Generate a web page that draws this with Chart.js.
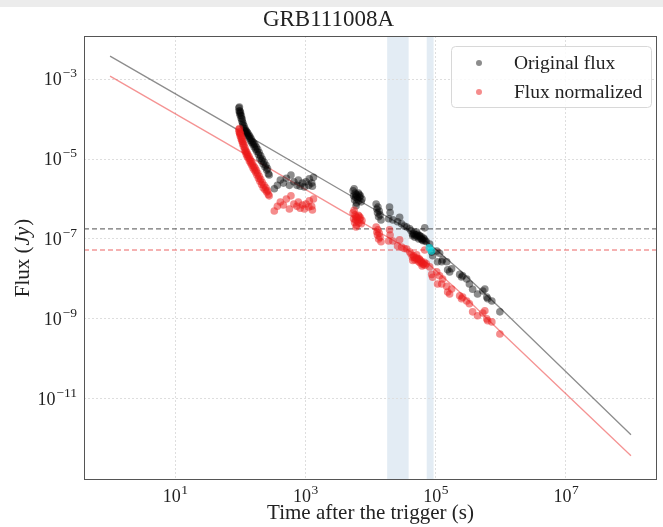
<!DOCTYPE html>
<html>
<head>
<meta charset="utf-8">
<script src="https://cdn.jsdelivr.net/npm/chart.js@4.4.0/dist/chart.umd.min.js"></script>
<style>
  html, body { margin: 0; padding: 0; background: #fff; }
  #band { position: absolute; left: 0; top: 0; width: 663px; height: 7px; background: #ececec; }
  #c { position: absolute; left: 0; top: 0; }
</style>
</head>
<body>
<canvas id="c" width="663" height="527"></canvas>
<div id="band"></div>
<script>
// observation times (s)
const times = [
  95, 96, 97, 98, 99, 100, 101, 103, 104, 106, 107, 109, 110, 112, 114, 116, 118, 120, 122, 124,
  126, 128, 130, 133, 136, 138, 141, 144, 147, 150, 154, 157, 161, 164, 168, 172, 176, 180, 185, 190,
  195, 200, 206, 212, 218, 225, 232, 240, 248, 255, 262, 270, 278,
  333, 371, 412, 459, 510, 568, 600, 665, 740, 780, 830, 900, 966, 1020, 1130, 1150, 1250, 1280, 1330,
  5400, 5500, 5600, 5700, 5800, 5900, 6000, 6100, 6200, 6300, 6500, 6600, 6800, 7000, 7200, 7400, 6000, 6700,
  12200, 12500, 12800, 13000, 13300, 13600, 14000, 14500,
  19000, 19600, 20000, 22000, 26000, 28000, 30000, 33000, 36000, 40000, 42000, 44000, 44500, 46000, 47000, 48000,
  50000, 51000, 52000, 53000, 55000, 56000, 57000, 58000, 60000, 61000, 62000, 64000, 65000, 67000, 68000, 69000, 72000,
  81000, 87000, 90000, 104000, 107000, 115000, 124000, 128000, 148000, 153000, 164000, 176000, 234000, 250000,
  260000, 300000, 330000, 370000, 440000, 530000, 570000, 610000, 630000, 730000, 970000
];
// original flux (Jy)
const origFlux = [
  1.9e-4, 1.6e-4, 2.0e-4, 1.4e-4, 1.6e-4, 1.25e-4, 1.45e-4, 1.05e-4, 1.2e-4, 8.8e-5, 1.0e-4, 7.2e-5, 8.0e-5, 6.0e-5, 6.8e-5, 5.2e-5, 5.8e-5, 4.8e-5, 5.2e-5, 4.4e-5,
  4.8e-5, 4.0e-5, 4.5e-5, 3.7e-5, 4.0e-5, 3.3e-5, 3.6e-5, 2.9e-5, 3.2e-5, 2.6e-5, 2.8e-5, 2.3e-5, 2.5e-5, 2.0e-5, 2.3e-5, 1.75e-5, 2.0e-5, 1.55e-5, 1.75e-5, 1.3e-5,
  1.45e-5, 1.05e-5, 1.2e-5, 9.0e-6, 1.0e-5, 7.5e-6, 8.4e-6, 6.3e-6, 7.0e-6, 5.3e-6, 5.8e-6, 4.3e-6, 4.0e-6,
  1.8e-6, 2.2e-6, 3.0e-6, 2.5e-6, 3.3e-6, 2.2e-6, 4.0e-6, 2.7e-6, 2.2e-6, 3.0e-6, 2.1e-6, 2.5e-6, 2.0e-6, 2.7e-6, 2.2e-6, 3.2e-6, 2.5e-6, 2.1e-6, 3.5e-6,
  1.6e-6, 1.2e-6, 1.8e-6, 9.5e-7, 1.4e-6, 1.1e-6, 1.3e-6, 8.0e-7, 1.2e-6, 1.0e-6, 1.4e-6, 9.0e-7, 1.1e-6, 1.2e-6, 8.5e-7, 1.0e-6, 6.8e-7, 1.3e-6,
  7.5e-7, 5.6e-7, 4.5e-7, 6.3e-7, 3.6e-7, 5.0e-7, 4.0e-7, 3.0e-7,
  3.2e-7, 6.3e-7, 4.6e-7, 3.0e-7, 2.7e-7, 3.5e-7, 2.4e-7, 2.1e-7, 2.0e-7, 1.8e-7, 1.6e-7, 1.33e-7, 1.2e-7, 1.4e-7, 1.3e-7, 1.1e-7,
  1.25e-7, 1.5e-7, 1.15e-7, 1.3e-7, 1.0e-7, 1.2e-7, 1.2e-7, 1.05e-7, 1.15e-7, 1.0e-7, 9.5e-8, 9.0e-8, 1.05e-7, 1.0e-7, 1.9e-7, 9.0e-8, 8.5e-8,
  7.5e-8, 4.7e-8, 3.8e-8, 5.0e-8, 2.7e-8, 4.4e-8, 2.7e-8, 3.0e-8, 2.7e-8, 1.7e-8, 1.5e-8, 1.8e-8, 1.3e-8, 1.12e-8,
  1.2e-8, 1.0e-8, 7.5e-9, 5.5e-9, 4.2e-9, 5.0e-9, 5.6e-9, 3.5e-9, 3.2e-9, 2.8e-9, 1.5e-9
];
// normalized flux (Jy)
const normFlux = [
  5.5e-5, 4.8e-5, 5.8e-5, 4.3e-5, 4.6e-5, 3.8e-5, 4.2e-5, 3.2e-5, 3.5e-5, 2.8e-5, 3.1e-5, 2.4e-5, 2.7e-5, 2.1e-5, 2.3e-5, 1.7e-5, 1.9e-5, 1.5e-5, 1.6e-5, 1.3e-5,
  1.45e-5, 1.15e-5, 1.3e-5, 1.05e-5, 1.15e-5, 9.0e-6, 1.0e-5, 8.0e-6, 8.8e-6, 7.0e-6, 7.6e-6, 6.0e-6, 6.6e-6, 5.3e-6, 6.0e-6, 4.7e-6, 5.2e-6, 4.0e-6, 4.4e-6, 3.3e-6,
  3.7e-6, 2.8e-6, 3.1e-6, 2.3e-6, 2.6e-6, 1.9e-6, 2.2e-6, 1.7e-6, 1.9e-6, 1.5e-6, 1.6e-6, 1.3e-6, 1.2e-6,
  5.0e-7, 6.6e-7, 8.4e-7, 7.1e-7, 1.0e-6, 5.6e-7, 1.2e-6, 7.5e-7, 6.6e-7, 8.4e-7, 5.9e-7, 7.1e-7, 5.6e-7, 7.5e-7, 6.3e-7, 9.0e-7, 6.6e-7, 5.3e-7, 1.0e-6,
  4.5e-7, 3.2e-7, 5.2e-7, 2.6e-7, 4.0e-7, 3.0e-7, 3.6e-7, 2.2e-7, 3.4e-7, 2.8e-7, 3.9e-7, 2.5e-7, 3.1e-7, 3.4e-7, 2.4e-7, 2.9e-7, 2.0e-7, 3.7e-7,
  2.0e-7, 1.5e-7, 1.25e-7, 1.7e-7, 1.0e-7, 1.4e-7, 1.1e-7, 8.5e-8,
  8.9e-8, 1.7e-7, 1.25e-7, 8.9e-8, 6.7e-8, 9.5e-8, 6.3e-8, 5.8e-8, 5.6e-8, 4.7e-8, 4.2e-8, 3.5e-8, 2.9e-8, 3.8e-8, 3.5e-8, 3.0e-8,
  3.3e-8, 4.0e-8, 3.0e-8, 3.3e-8, 2.7e-8, 3.2e-8, 3.0e-8, 2.5e-8, 2.8e-8, 2.6e-8, 2.1e-8, 2.3e-8, 2.4e-8, 2.6e-8, 5.3e-8, 2.2e-8, 2.4e-8,
  2.0e-8, 1.3e-8, 1.1e-8, 1.5e-8, 7.5e-9, 1.2e-8, 7.5e-9, 1.0e-8, 6.5e-9, 4.7e-9, 4.2e-9, 5.6e-9, 3.8e-9, 3.2e-9,
  3.5e-9, 2.8e-9, 2.4e-9, 1.5e-9, 1.2e-9, 1.4e-9, 1.6e-9, 1.0e-9, 9.0e-10, 8.4e-10, 4.2e-10
];
// highlighted points
const cyanTime = [80000, 86000];
const cyanFlux = [6.0e-8, 5.0e-8];
// fitted model curves
const fitTime = [1, 57, 3300, 28000, 81000, 234000, 970000, 1e8];
const fitOrig = [3.76e-3, 8.4e-5, 1.78e-6, 2.37e-7, 7.5e-8, 1.67e-8, 1.9e-9, 1.26e-12];
const fitNorm = [1.19e-3, 2.66e-5, 5.6e-7, 7.5e-8, 2.24e-8, 4.7e-9, 5.0e-10, 3.76e-13];
// horizontal levels and shaded time windows
const levelOrig = 1.78e-7;
const levelNorm = 5.3e-8;
const spanStart = [1.8e4, 7.3e4];
const spanEnd = [3.85e4, 9.3e4];
// axes
const xRange = [0.398, 2.51e8];
const yRange = [9.3e-14, 1.2e-2];
const xTicks = [1e1, 1e3, 1e5, 1e7];
const xTickExp = ['1', '3', '5', '7'];
const yTicks = [1e-11, 1e-9, 1e-7, 1e-5, 1e-3];
const yTickExp = ['\u221211', '\u22129', '\u22127', '\u22125', '\u22123'];
const legendLabels = ['Original flux', 'Flux normalized'];

const SERIF = '"Liberation Serif", "DejaVu Serif", serif';
const BLACK_PT = 'rgba(0,0,0,0.45)';
const RED_PT = 'rgba(235,25,25,0.5)';

const pts = (xs, ys) => xs.map((x, i) => ({ x: x, y: ys[i] }));

const decorations = {
  id: 'decorations',
  beforeDraw(chart) {
    const { ctx, chartArea: a, scales: { x } } = chart;
    ctx.save();
    ctx.fillStyle = 'rgba(70,130,180,0.15)';
    for (let i = 0; i < spanStart.length; i++) {
      const x1 = x.getPixelForValue(spanStart[i]);
      const x2 = x.getPixelForValue(spanEnd[i]);
      ctx.fillRect(x1, a.top, x2 - x1, a.bottom - a.top);
    }
    ctx.restore();
  },
  afterDraw(chart) {
    const { ctx, chartArea: a, scales: { x, y } } = chart;
    ctx.save();
    // frame
    ctx.strokeStyle = '#555';
    ctx.lineWidth = 1;
    ctx.strokeRect(a.left + 0.5, a.top + 0.5, a.right - a.left - 1, a.bottom - a.top - 1);

    // tick labels with exponents
    ctx.fillStyle = '#222';
    ctx.textBaseline = 'alphabetic';
    const big = '18px ' + SERIF, small = '13.5px ' + SERIF;
    xTicks.forEach((v, i) => {
      const px = x.getPixelForValue(v);
      ctx.font = big; const w1 = ctx.measureText('10').width;
      ctx.font = small; const w2 = ctx.measureText(xTickExp[i]).width;
      const x0 = px - (w1 + w2) / 2;
      ctx.font = big; ctx.textAlign = 'left';
      ctx.fillText('10', x0, a.bottom + 22);
      ctx.font = small;
      ctx.fillText(xTickExp[i], x0 + w1 + 0.5, a.bottom + 14);
    });
    yTicks.forEach((v, i) => {
      const py = y.getPixelForValue(v);
      ctx.font = small; const w2 = ctx.measureText(yTickExp[i]).width;
      ctx.textAlign = 'right';
      ctx.fillText(yTickExp[i], a.left - 7, py - 2);
      ctx.font = big;
      ctx.fillText('10', a.left - 8 - w2, py + 6);
    });

    // y axis title with italic unit
    ctx.save();
    ctx.translate(23, (a.top + a.bottom) / 2);
    ctx.rotate(-Math.PI / 2);
    const parts = [['Flux (', '21px ' + SERIF], ['Jy', 'italic 21px ' + SERIF], [')', '21px ' + SERIF]];
    let total = 0;
    parts.forEach(p => { ctx.font = p[1]; total += ctx.measureText(p[0]).width + (p[0] === 'Jy' ? 2 : 0); });
    let cx = -total / 2;
    ctx.textAlign = 'left';
    ctx.textBaseline = 'middle';
    parts.forEach(p => {
      ctx.font = p[1];
      ctx.fillText(p[0], cx + (p[0] === 'Jy' ? 1 : 0), 0);
      cx += ctx.measureText(p[0]).width + (p[0] === 'Jy' ? 2 : 0);
    });
    ctx.restore();

    // legend box
    const bx = a.right - 206, by = a.top + 10, bw = 200, bh = 61;
    ctx.beginPath();
    ctx.roundRect(bx + 0.5, by + 0.5, bw, bh, 4);
    ctx.fillStyle = 'rgba(255,255,255,0.85)';
    ctx.fill();
    ctx.strokeStyle = '#d8d8d8';
    ctx.stroke();
    const colors = [BLACK_PT, RED_PT];
    legendLabels.forEach((lab, i) => {
      const cy = by + 17 + i * 29;
      ctx.beginPath();
      ctx.arc(bx + 28, cy, 3, 0, Math.PI * 2);
      ctx.fillStyle = colors[i];
      ctx.fill();
      ctx.fillStyle = '#222';
      ctx.font = '19.5px ' + SERIF;
      ctx.textAlign = 'left';
      ctx.textBaseline = 'middle';
      ctx.fillText(lab, bx + 63, cy + 1);
    });
    ctx.restore();
  }
};

new Chart(document.getElementById('c'), {
  type: 'scatter',
  data: {
    datasets: [
      { label: 'cyan', data: pts(cyanTime, cyanFlux), backgroundColor: 'rgba(0,225,230,0.65)', pointRadius: 3.8, borderWidth: 0, order: 0 },
      { label: legendLabels[1], data: pts(times, normFlux), backgroundColor: RED_PT, pointRadius: 3.8, borderWidth: 0, order: 1 },
      { label: legendLabels[0], data: pts(times, origFlux), backgroundColor: BLACK_PT, pointRadius: 3.8, borderWidth: 0, order: 2 },
      { type: 'line', label: 'fit orig', data: pts(fitTime, fitOrig), borderColor: 'rgba(0,0,0,0.45)', borderWidth: 1.3, pointRadius: 0, tension: 0, order: 3 },
      { type: 'line', label: 'fit norm', data: pts(fitTime, fitNorm), borderColor: 'rgba(235,40,40,0.5)', borderWidth: 1.3, pointRadius: 0, tension: 0, order: 4 },
      { type: 'line', label: 'level orig', data: pts(xRange, [levelOrig, levelOrig]), borderColor: 'rgba(40,40,40,0.65)', borderWidth: 1.2, borderDash: [5, 3], pointRadius: 0, order: 5 },
      { type: 'line', label: 'level norm', data: pts(xRange, [levelNorm, levelNorm]), borderColor: 'rgba(230,50,50,0.75)', borderWidth: 1.2, borderDash: [5, 3], pointRadius: 0, order: 6 }
    ]
  },
  options: {
    responsive: false,
    animation: false,
    devicePixelRatio: 1,
    layout: { padding: { left: 0, right: 6, top: 0, bottom: 0 } },
    plugins: {
      legend: { display: false },
      tooltip: { enabled: false },
      title: {
        display: true,
        text: 'GRB111008A',
        color: '#222',
        font: { family: SERIF, size: 23, weight: 'normal', lineHeight: 1.2 },
        padding: { top: 6, bottom: 2.4 }
      }
    },
    scales: {
      x: {
        type: 'logarithmic',
        min: xRange[0],
        max: xRange[1],
        afterBuildTicks: s => { s.ticks = xTicks.map(v => ({ value: v })); },
        afterFit: s => { s.height = 47; },
        ticks: { display: false },
        grid: { color: '#dedede', lineWidth: 1, drawTicks: false },
        border: { display: false, dash: [2, 2] },
        title: {
          display: true,
          text: 'Time after the trigger (s)',
          color: '#222',
          font: { family: SERIF, size: 21 },
          padding: { top: 0, bottom: 1 }
        }
      },
      y: {
        type: 'logarithmic',
        min: yRange[0],
        max: yRange[1],
        afterBuildTicks: s => { s.ticks = yTicks.map(v => ({ value: v })); },
        afterFit: s => { s.width = 84; },
        ticks: { display: false },
        grid: { color: '#dedede', lineWidth: 1, drawTicks: false },
        border: { display: false, dash: [2, 2] }
      }
    }
  },
  plugins: [decorations]
});
</script>
</body>
</html>
